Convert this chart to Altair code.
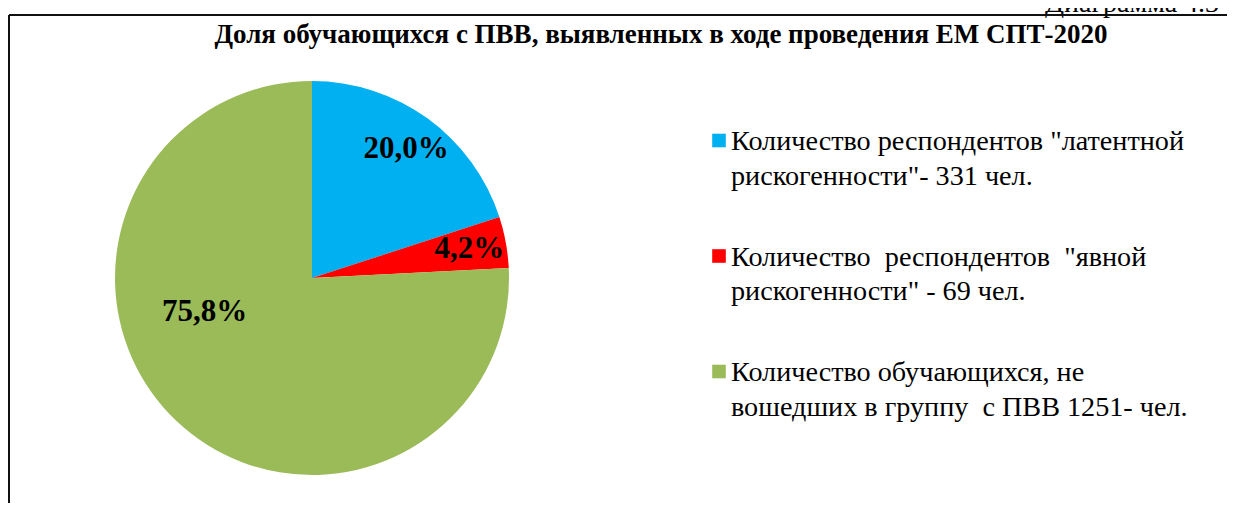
import altair as alt
import pandas as pd

# ---- data ----
categories = ["латентной рискогенности", "явной рискогенности", "не вошедшие в группу с ПВВ"]
shares = [20.0, 4.2, 75.8]
share_labels = ["20,0%", "4,2%", "75,8%"]
colors = ["#00B0F0", "#FF0000", "#9BBB59"]
legend_line1 = [
    "Количество респондентов \"латентной",
    "Количество\u00a0\u00a0респондентов\u00a0\u00a0\"явной",
    "Количество обучающихся, не",
]
legend_line2 = [
    "рискогенности\"- 331 чел.",
    "рискогенности\" - 69 чел.",
    "вошедших в группу\u00a0\u00a0с ПВВ 1251- чел.",
]
title_text = "Доля обучающихся с ПВВ, выявленных в ходе проведения ЕМ СПТ-2020"
caption_text = "Диаграмма 4.3"

df = pd.DataFrame({
    "idx": list(range(len(categories))),
    "cat": categories,
    "share": shares,
    "label": share_labels,
    "line1": legend_line1,
    "line2": legend_line2,
})

FONT = "Liberation Serif, DejaVu Serif, Liberation Sans, sans-serif"
W, H = 1219, 495
CX, CY, R = 304, 270, 197

color_scale = alt.Scale(domain=categories, range=colors)
base = alt.Chart(df)

pie = base.mark_arc(radius=R).encode(
    theta=alt.Theta("share:Q", stack=True),
    color=alt.Color("cat:N", scale=color_scale, legend=None),
    order=alt.Order("idx:Q"),
    x=alt.value(CX),
    y=alt.value(CY),
)

lbl_common = dict(font=FONT, fontSize=31, fontWeight="bold", color="black",
                  align="center", baseline="middle")

labels_a = base.mark_text(radius=160, **lbl_common).encode(
    theta=alt.Theta("share:Q", stack=True),
    order=alt.Order("idx:Q"),
    text="label:N",
    x=alt.value(CX),
    y=alt.value(CY),
    opacity=alt.condition(alt.datum.idx < 2, alt.value(1), alt.value(0)),
)
labels_b = base.mark_text(radius=160, dx=3, dy=-82, **lbl_common).encode(
    theta=alt.Theta("share:Q", stack=True),
    order=alt.Order("idx:Q"),
    text="label:N",
    x=alt.value(CX),
    y=alt.value(CY),
    opacity=alt.condition(alt.datum.idx == 2, alt.value(1), alt.value(0)),
)

ly = alt.Y("cat:N", axis=None,
           scale=alt.Scale(type="point", domain=categories, range=[132.5, 363.5], padding=0))

leg_sq = base.mark_square(size=185, opacity=1).encode(
    x=alt.value(711),
    y=ly,
    color=alt.Color("cat:N", scale=color_scale, legend=None),
)
leg_t1 = base.mark_text(font=FONT, fontSize=28.2, align="left", baseline="alphabetic",
                        dy=9.5, color="black").encode(
    x=alt.value(723), y=ly, text="line1:N")
leg_t2 = base.mark_text(font=FONT, fontSize=28.2, align="left", baseline="alphabetic",
                        dy=44, color="black").encode(
    x=alt.value(723), y=ly, text="line2:N")

title = alt.Chart(pd.DataFrame({"t": [title_text]})).mark_text(
    font=FONT, fontSize=27, fontWeight="bold", align="center", baseline="alphabetic",
    color="black").encode(x=alt.value(653), y=alt.value(35), text="t:N")

caption = alt.Chart(pd.DataFrame({"t": [caption_text]})).mark_text(
    font=FONT, fontSize=28, align="left", baseline="alphabetic", color="black"
).encode(x=alt.value(1037), y=alt.value(4), text="t:N")

frame_top = alt.Chart(pd.DataFrame({"a": [0]})).mark_rule(color="#111", strokeWidth=2).encode(
    x=alt.value(1), x2=alt.value(W), y=alt.value(7))
frame_left = alt.Chart(pd.DataFrame({"a": [0]})).mark_rule(color="#111", strokeWidth=2).encode(
    x=alt.value(1), y=alt.value(7), y2=alt.value(H))

chart = alt.layer(
    pie, labels_a, labels_b, leg_sq, leg_t1, leg_t2, title, caption, frame_top, frame_left
).properties(
    width=W, height=H, padding=0, autosize=alt.AutoSizeParams(type="none")
).configure_view(stroke=None)

chart.save("out.html", embed_options={"renderer": "svg", "actions": False})
